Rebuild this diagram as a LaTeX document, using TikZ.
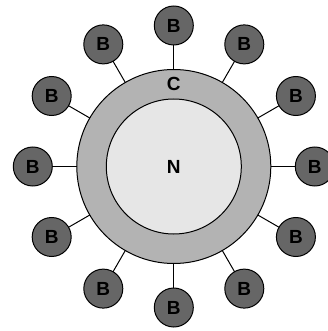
\documentclass[tikz,border=0pt]{standalone}
\usepackage{fontspec}
\setmainfont{Liberation Sans}
\usetikzlibrary{calc}
\definecolor{bgray}{HTML}{666666}
\definecolor{ringgray}{HTML}{B3B3B3}
\definecolor{nucgray}{HTML}{E6E6E6}
\begin{document}
\begin{tikzpicture}[x=1pt,y=-1pt, line width=1pt,
  lbl/.style={font=\fontsize{19}{19}\selectfont\bfseries, inner sep=0pt},
  bnode/.style={circle, draw, fill=bgray, minimum size=39pt, inner sep=0pt, outer sep=0pt, lbl}]
\useasboundingbox (0,0) rectangle (327,331);
\node[circle, draw, fill=ringgray, minimum size=194pt, inner sep=0pt, outer sep=0pt] (C) at (173.8,166.5) {};
\node[circle, draw, fill=nucgray, minimum size=135pt, inner sep=0pt, outer sep=0pt] (N) at (173.8,166.5) {};
\node[lbl] (Clbl) at (173.8,84) {C};
\node[lbl] (Nlbl) at (N.center) {N};
\foreach \i in {0,...,11} {
  \node[bnode] (b\i) at ($(C.center)+(\i*30:141pt)$) {B};
  \draw (b\i) -- (C);
}
\end{tikzpicture}
\end{document}
